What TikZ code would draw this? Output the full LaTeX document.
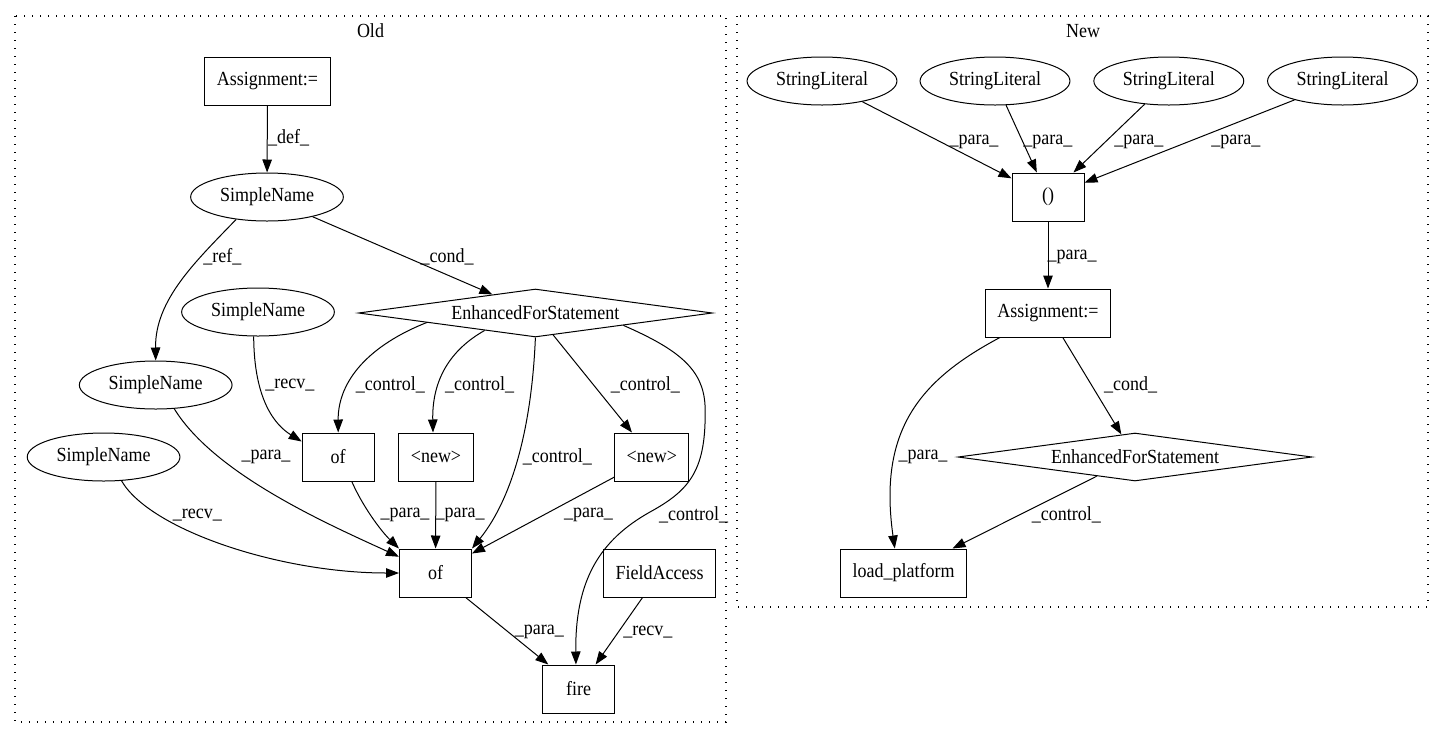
\documentclass[tikz,border=0pt]{standalone}
\usepackage{fontspec}
\setmainfont{Liberation Serif}[FakeStretch=0.9]
\usetikzlibrary{shapes.geometric,arrows.meta}

\begin{document}
\begin{tikzpicture}[x=1pt,y=1pt,yscale=-1,
  font=\fontsize{20}{23}\selectfont,
  rectnode/.style={draw,line width=1pt,rectangle,minimum height=48pt,minimum width=72pt,inner xsep=12pt},
  ellnode/.style={draw,line width=1pt,ellipse,minimum height=48pt,inner xsep=7pt,inner ysep=0pt},
  dianode/.style={draw,line width=1pt,diamond,aspect=7,minimum width=354pt,minimum height=48pt,inner sep=0pt},
  lbl/.style={inner sep=0.75pt},
  edgearr/.style={line width=1pt,-{Triangle[length=13pt,width=9.5pt]}},
  clusterbox/.style={line width=1.2pt,dash pattern=on 1.2pt off 6.8pt}
]
\useasboundingbox (0,0) rectangle (1444,740);

%Cluster Boxes
\draw [clusterbox] (15,16) rectangle (726,722);
\draw [clusterbox] (737,16) rectangle (1428,607);
\node [lbl] (oldtitle) at (370.5,31) {Old};
\node [lbl] (newtitle) at (1083,31) {New};

%Old: Shapes
\node [rectnode] (asgold) at (267.5,81) {Assignment:=};
\node [ellnode] (snA) at (267,197) {SimpleName};
\node [dianode] (forold) at (535.4,313) {EnhancedForStatement};
\node [ellnode] (snB) at (258,312) {SimpleName};
\node [ellnode] (snC) at (155.7,385) {SimpleName};
\node [ellnode] (snD) at (103.6,457) {SimpleName};
\node [rectnode] (ofA) at (338.2,457) {of};
\node [rectnode] (newA) at (436,457) {<new>};
\node [rectnode] (newB) at (651.8,457) {<new>};
\node [rectnode] (ofB) at (435.5,573) {of};
\node [rectnode] (facc) at (659.7,573) {FieldAccess};
\node [rectnode] (fire) at (578.5,689) {fire};

%Old: Lines
\draw [edgearr] (asgold) -- (snA);
\draw [edgearr] (snA.216) .. controls (195,262) and (155,300) .. (snC.north);
\draw [edgearr] (snA) -- (forold);
\draw [edgearr] (snB.260) .. controls (254,400) and (275,425) .. (ofA.157);
\draw [edgearr] (forold.185) .. controls (370,345) and (338,380) .. (ofA.north);
\draw [edgearr] (forold.199) .. controls (450,350) and (432,380) .. (newA.97);
\draw [edgearr] (forold.south) .. controls (532,420) and (515,495) .. (ofB.north east);
\draw [edgearr] (forold) -- (newB);
\draw [edgearr] (forold.352) .. controls (680,350) and (703,370) .. (705,405) .. controls (707,470) and (690,490) .. (650,512) .. controls (600,540) and (575,580) .. (fire.96);
\draw [edgearr] (snC.308) .. controls (215,475) and (330,525) .. (ofB.156);
\draw [edgearr] (snD.307) .. controls (150,530) and (280,573) .. (ofB.west);
\draw [edgearr] (ofA.299) .. controls (362,505) and (380,530) .. (ofB.north west);
\draw [edgearr] (newA) -- (ofB);
\draw [edgearr] (newB) -- (ofB);
\draw [edgearr] (ofB) -- (fire);
\draw [edgearr] (facc) -- (fire);

% Text Node
\node [lbl] (lbdef) at (288.6,138) {\_def\_};
\node [lbl] (lbref) at (222.3,257) {\_ref\_};
\node [lbl] (lbcond) at (447,257) {\_cond\_};
\node [lbl] (lbrecvA) at (289.8,385) {\_recv\_};
\node [lbl] (lbctlA) at (390.4,385) {\_control\_};
\node [lbl] (lbctlB) at (479.5,385) {\_control\_};
\node [lbl] (lbctlC) at (645.3,385) {\_control\_};
\node [lbl] (lbctlD) at (557.3,457) {\_control\_};
\node [lbl] (lbparaA) at (266,457) {\_para\_};
\node [lbl] (lbrecvB) at (197.4,515) {\_recv\_};
\node [lbl] (lbparaB) at (405,515) {\_para\_};
\node [lbl] (lbparaC) at (460.2,515) {\_para\_};
\node [lbl] (lbparaD) at (588.5,515) {\_para\_};
\node [lbl] (lbctlE) at (693.7,515) {\_control\_};
\node [lbl] (lbparaE) at (539.3,632) {\_para\_};
\node [lbl] (lbrecvC) at (647.8,632) {\_recv\_};

%New: Shapes
\node [ellnode] (strA) at (822,81) {StringLiteral};
\node [ellnode] (strB) at (995,81) {StringLiteral};
\node [ellnode] (strC) at (1168.8,81) {StringLiteral};
\node [ellnode] (strD) at (1342.5,81) {StringLiteral};
\node [rectnode] (paren) at (1048,197) {()};
\node [rectnode] (asgnew) at (1048,313) {Assignment:=};
\node [dianode] (fornew) at (1135,457) {EnhancedForStatement};
\node [rectnode] (loadp) at (903.7,573) {load\_platform};

%New: Lines
\draw [edgearr] (strA) -- (paren);
\draw [edgearr] (strB) -- (paren);
\draw [edgearr] (strC) -- (paren);
\draw [edgearr] (strD) -- (paren);
\draw [edgearr] (paren) -- (asgnew);
\draw [edgearr] (asgnew.207) .. controls (920,380) and (878,430) .. (loadp.110);
\draw [edgearr] (asgnew) -- (fornew);
\draw [edgearr] (fornew) -- (loadp);

% Text Node
\node [lbl] (lbparaF) at (974,141.7) {\_para\_};
\node [lbl] (lbparaG) at (1047.9,141.7) {\_para\_};
\node [lbl] (lbparaH) at (1138.9,141.7) {\_para\_};
\node [lbl] (lbparaI) at (1235.9,141.7) {\_para\_};
\node [lbl] (lbparaJ) at (1072,256.7) {\_para\_};
\node [lbl] (lbparaK) at (923,457.3) {\_para\_};
\node [lbl] (lbcondB) at (1130.7,385) {\_cond\_};
\node [lbl] (lbctlF) at (1066.3,515) {\_control\_};

\end{tikzpicture}
\end{document}
